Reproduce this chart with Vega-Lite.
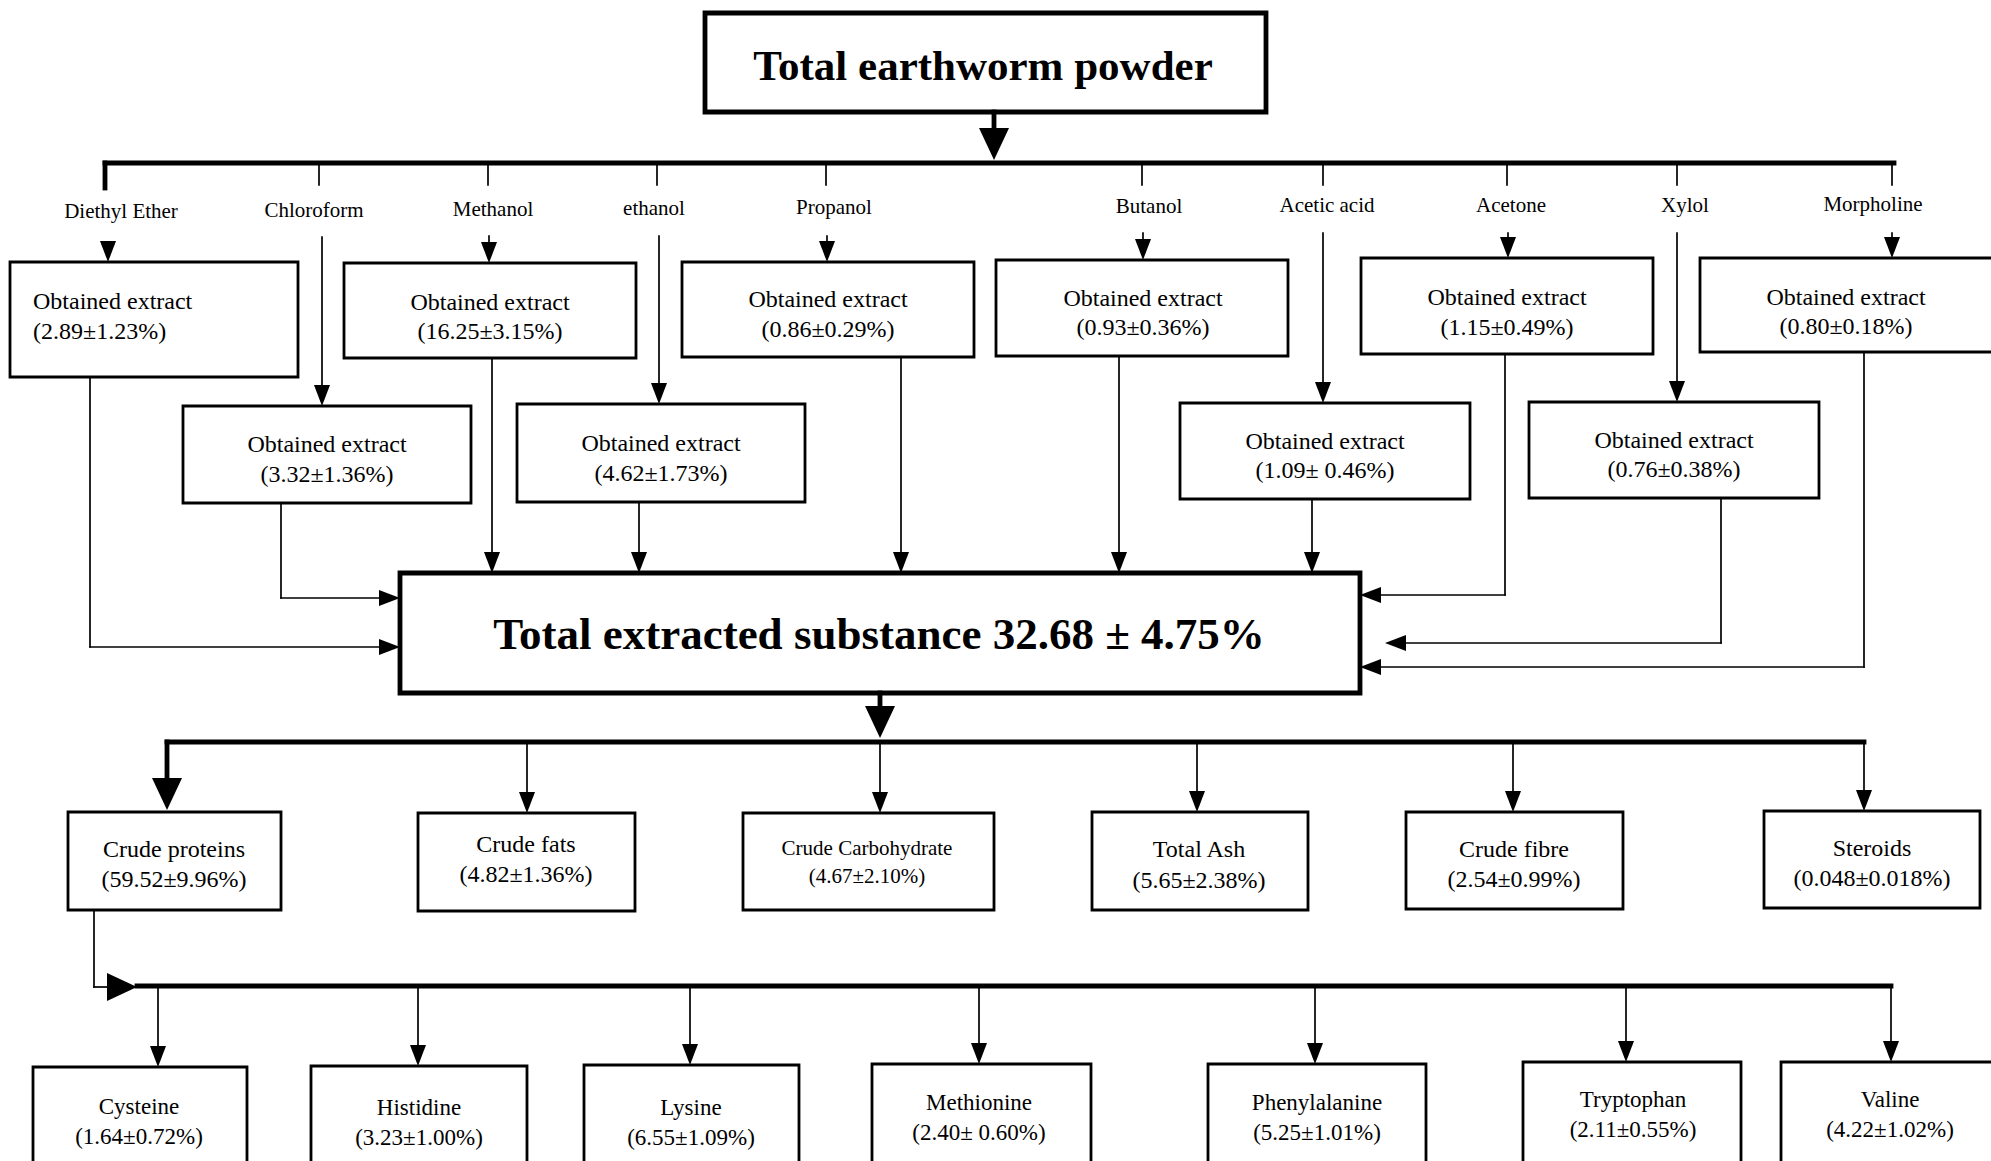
{
"$schema":"https://vega.github.io/schema/vega-lite/v6.json",
"width":1991,"height":1161,
"autosize":"none",
"padding":0,
"background":"white",
"config":{"view":{"stroke":null}},
"datasets":{
"boxes":[
{"x":705,"x2":1266,"y":13,"y2":112,"w":"thick"},
{"x":10,"x2":298,"y":262,"y2":377,"w":"med"},
{"x":344,"x2":636,"y":263,"y2":358,"w":"med"},
{"x":682,"x2":974,"y":262,"y2":357,"w":"med"},
{"x":996,"x2":1288,"y":260,"y2":356,"w":"med"},
{"x":1361,"x2":1653,"y":258,"y2":354,"w":"med"},
{"x":1700,"x2":1995,"y":258,"y2":352,"w":"med"},
{"x":183,"x2":471,"y":406,"y2":503,"w":"med"},
{"x":517,"x2":805,"y":404,"y2":502,"w":"med"},
{"x":1180,"x2":1470,"y":403,"y2":499,"w":"med"},
{"x":1529,"x2":1819,"y":402,"y2":498,"w":"med"},
{"x":400,"x2":1360,"y":573,"y2":693,"w":"thick"},
{"x":68,"x2":281,"y":812,"y2":910,"w":"med"},
{"x":418,"x2":635,"y":813,"y2":911,"w":"med"},
{"x":743,"x2":994,"y":813,"y2":910,"w":"med"},
{"x":1092,"x2":1308,"y":812,"y2":910,"w":"med"},
{"x":1406,"x2":1623,"y":812,"y2":909,"w":"med"},
{"x":1764,"x2":1980,"y":811,"y2":908,"w":"med"},
{"x":33,"x2":247,"y":1067,"y2":1200,"w":"med"},
{"x":311,"x2":527,"y":1066,"y2":1200,"w":"med"},
{"x":584,"x2":799,"y":1065,"y2":1200,"w":"med"},
{"x":872,"x2":1091,"y":1064,"y2":1200,"w":"med"},
{"x":1208,"x2":1426,"y":1064,"y2":1200,"w":"med"},
{"x":1523,"x2":1741,"y":1062,"y2":1200,"w":"med"},
{"x":1781,"x2":1995,"y":1062,"y2":1200,"w":"med"}
],
"segments":[
{"x":994,"y":112,"x2":994,"y2":135,"w":"thick"},
{"x":105,"y":163,"x2":1894,"y2":163,"w":"thick"},
{"x":105,"y":163,"x2":105,"y2":188,"w":"thick"},
{"x":880,"y":693,"x2":880,"y2":712,"w":"thick"},
{"x":167,"y":742,"x2":1864,"y2":742,"w":"thick"},
{"x":167,"y":742,"x2":167,"y2":785,"w":"thick"},
{"x":137,"y":986,"x2":1891,"y2":986,"w":"thick"},
{"x":319,"y":163,"x2":319,"y2":185,"w":"thin"},
{"x":488,"y":163,"x2":488,"y2":185,"w":"thin"},
{"x":657,"y":163,"x2":657,"y2":185,"w":"thin"},
{"x":826,"y":163,"x2":826,"y2":185,"w":"thin"},
{"x":1142,"y":163,"x2":1142,"y2":185,"w":"thin"},
{"x":1323,"y":163,"x2":1323,"y2":185,"w":"thin"},
{"x":1507,"y":163,"x2":1507,"y2":185,"w":"thin"},
{"x":1677,"y":163,"x2":1677,"y2":185,"w":"thin"},
{"x":1892,"y":163,"x2":1892,"y2":185,"w":"thin"},
{"x":489,"y":236,"x2":489,"y2":250,"w":"thin"},
{"x":827,"y":236,"x2":827,"y2":250,"w":"thin"},
{"x":1143,"y":233,"x2":1143,"y2":248,"w":"thin"},
{"x":1508,"y":233,"x2":1508,"y2":246,"w":"thin"},
{"x":1892,"y":233,"x2":1892,"y2":246,"w":"thin"},
{"x":322,"y":237,"x2":322,"y2":395,"w":"thin"},
{"x":659,"y":236,"x2":659,"y2":393,"w":"thin"},
{"x":1323,"y":233,"x2":1323,"y2":390,"w":"thin"},
{"x":1677,"y":233,"x2":1677,"y2":390,"w":"thin"},
{"x":90,"y":377,"x2":90,"y2":647,"w":"thin"},
{"x":90,"y":647,"x2":390,"y2":647,"w":"thin"},
{"x":281,"y":503,"x2":281,"y2":598,"w":"thin"},
{"x":281,"y":598,"x2":390,"y2":598,"w":"thin"},
{"x":492,"y":358,"x2":492,"y2":562,"w":"thin"},
{"x":639,"y":502,"x2":639,"y2":562,"w":"thin"},
{"x":901,"y":357,"x2":901,"y2":562,"w":"thin"},
{"x":1119,"y":356,"x2":1119,"y2":561,"w":"thin"},
{"x":1312,"y":499,"x2":1312,"y2":561,"w":"thin"},
{"x":1505,"y":354,"x2":1505,"y2":595,"w":"thin"},
{"x":1505,"y":595,"x2":1370,"y2":595,"w":"thin"},
{"x":1721,"y":498,"x2":1721,"y2":643,"w":"thin"},
{"x":1721,"y":643,"x2":1395,"y2":643,"w":"thin"},
{"x":1864,"y":352,"x2":1864,"y2":667,"w":"thin"},
{"x":1864,"y":667,"x2":1370,"y2":667,"w":"thin"},
{"x":527,"y":742,"x2":527,"y2":802,"w":"thin"},
{"x":880,"y":742,"x2":880,"y2":802,"w":"thin"},
{"x":1197,"y":742,"x2":1197,"y2":801,"w":"thin"},
{"x":1513,"y":742,"x2":1513,"y2":801,"w":"thin"},
{"x":1864,"y":742,"x2":1864,"y2":800,"w":"thin"},
{"x":94,"y":910,"x2":94,"y2":987,"w":"thin"},
{"x":94,"y":987,"x2":120,"y2":987,"w":"thin"},
{"x":158,"y":986,"x2":158,"y2":1055,"w":"thin"},
{"x":418,"y":986,"x2":418,"y2":1055,"w":"thin"},
{"x":690,"y":986,"x2":690,"y2":1053,"w":"thin"},
{"x":979,"y":986,"x2":979,"y2":1052,"w":"thin"},
{"x":1315,"y":986,"x2":1315,"y2":1052,"w":"thin"},
{"x":1626,"y":986,"x2":1626,"y2":1050,"w":"thin"},
{"x":1891,"y":986,"x2":1891,"y2":1050,"w":"thin"}
],
"arrows":[
{"x":994,"y":160,"head":"downBig"},
{"x":880,"y":738,"head":"downBig"},
{"x":167,"y":810,"head":"downBig"},
{"x":137,"y":987,"head":"rightBig"},
{"x":108,"y":262,"head":"down"},
{"x":489,"y":263,"head":"down"},
{"x":827,"y":262,"head":"down"},
{"x":1143,"y":260,"head":"down"},
{"x":1508,"y":258,"head":"down"},
{"x":1892,"y":258,"head":"down"},
{"x":322,"y":406,"head":"down"},
{"x":659,"y":404,"head":"down"},
{"x":1323,"y":403,"head":"down"},
{"x":1677,"y":402,"head":"down"},
{"x":492,"y":573,"head":"down"},
{"x":639,"y":573,"head":"down"},
{"x":901,"y":573,"head":"down"},
{"x":1119,"y":573,"head":"down"},
{"x":1312,"y":573,"head":"down"},
{"x":527,"y":813,"head":"down"},
{"x":880,"y":813,"head":"down"},
{"x":1197,"y":812,"head":"down"},
{"x":1513,"y":812,"head":"down"},
{"x":1864,"y":811,"head":"down"},
{"x":158,"y":1067,"head":"down"},
{"x":418,"y":1066,"head":"down"},
{"x":690,"y":1065,"head":"down"},
{"x":979,"y":1064,"head":"down"},
{"x":1315,"y":1064,"head":"down"},
{"x":1626,"y":1062,"head":"down"},
{"x":1891,"y":1062,"head":"down"},
{"x":400,"y":647,"head":"right"},
{"x":400,"y":598,"head":"right"},
{"x":1360,"y":595,"head":"left"},
{"x":1385,"y":643,"head":"left"},
{"x":1360,"y":667,"head":"left"}
],
"texts":[
{"x":983,"y":67,"text":"Total earthworm powder","style":"head"},
{"x":879,"y":635,"text":"Total extracted substance 32.68 ± 4.75%","style":"main"},
{"x":121,"y":212,"text":"Diethyl Ether","style":"label"},
{"x":314,"y":211,"text":"Chloroform","style":"label"},
{"x":493,"y":210,"text":"Methanol","style":"label"},
{"x":654,"y":209,"text":"ethanol","style":"label"},
{"x":834,"y":208,"text":"Propanol","style":"label"},
{"x":1149,"y":207,"text":"Butanol","style":"label"},
{"x":1327,"y":206,"text":"Acetic acid","style":"label"},
{"x":1511,"y":206,"text":"Acetone","style":"label"},
{"x":1685,"y":206,"text":"Xylol","style":"label"},
{"x":1873,"y":205,"text":"Morpholine","style":"label"},
{"x":33,"y":302,"text":"Obtained extract","style":"left"},
{"x":33,"y":332,"text":"(2.89±1.23%)","style":"left"},
{"x":490,"y":303,"text":"Obtained extract","style":"box"},
{"x":490,"y":332,"text":"(16.25±3.15%)","style":"box"},
{"x":828,"y":300,"text":"Obtained extract","style":"box"},
{"x":828,"y":330,"text":"(0.86±0.29%)","style":"box"},
{"x":1143,"y":299,"text":"Obtained extract","style":"box"},
{"x":1143,"y":328,"text":"(0.93±0.36%)","style":"box"},
{"x":1507,"y":298,"text":"Obtained extract","style":"box"},
{"x":1507,"y":328,"text":"(1.15±0.49%)","style":"box"},
{"x":1846,"y":298,"text":"Obtained extract","style":"box"},
{"x":1846,"y":327,"text":"(0.80±0.18%)","style":"box"},
{"x":327,"y":445,"text":"Obtained extract","style":"box"},
{"x":327,"y":475,"text":"(3.32±1.36%)","style":"box"},
{"x":661,"y":444,"text":"Obtained extract","style":"box"},
{"x":661,"y":474,"text":"(4.62±1.73%)","style":"box"},
{"x":1325,"y":442,"text":"Obtained extract","style":"box"},
{"x":1325,"y":471,"text":"(1.09± 0.46%)","style":"box"},
{"x":1674,"y":441,"text":"Obtained extract","style":"box"},
{"x":1674,"y":470,"text":"(0.76±0.38%)","style":"box"},
{"x":174,"y":850,"text":"Crude proteins","style":"box"},
{"x":174,"y":880,"text":"(59.52±9.96%)","style":"box"},
{"x":526,"y":845,"text":"Crude fats","style":"box"},
{"x":526,"y":875,"text":"(4.82±1.36%)","style":"box"},
{"x":867,"y":849,"text":"Crude Carbohydrate","style":"small"},
{"x":867,"y":877,"text":"(4.67±2.10%)","style":"small"},
{"x":1199,"y":850,"text":"Total Ash","style":"box"},
{"x":1199,"y":881,"text":"(5.65±2.38%)","style":"box"},
{"x":1514,"y":850,"text":"Crude fibre","style":"box"},
{"x":1514,"y":880,"text":"(2.54±0.99%)","style":"box"},
{"x":1872,"y":849,"text":"Steroids","style":"box"},
{"x":1872,"y":879,"text":"(0.048±0.018%)","style":"box"},
{"x":139,"y":1107,"text":"Cysteine","style":"amino"},
{"x":139,"y":1137,"text":"(1.64±0.72%)","style":"amino"},
{"x":419,"y":1108,"text":"Histidine","style":"amino"},
{"x":419,"y":1138,"text":"(3.23±1.00%)","style":"amino"},
{"x":691,"y":1108,"text":"Lysine","style":"amino"},
{"x":691,"y":1138,"text":"(6.55±1.09%)","style":"amino"},
{"x":979,"y":1103,"text":"Methionine","style":"amino"},
{"x":979,"y":1133,"text":"(2.40± 0.60%)","style":"amino"},
{"x":1317,"y":1103,"text":"Phenylalanine","style":"amino"},
{"x":1317,"y":1133,"text":"(5.25±1.01%)","style":"amino"},
{"x":1633,"y":1100,"text":"Tryptophan","style":"amino"},
{"x":1633,"y":1130,"text":"(2.11±0.55%)","style":"amino"},
{"x":1890,"y":1100,"text":"Valine","style":"amino"},
{"x":1890,"y":1130,"text":"(4.22±1.02%)","style":"amino"}
]
},
"encoding":{
"x":{"field":"x","type":"quantitative","scale":{"domain":[0,1991],"nice":false,"zero":false},"axis":null},
"y":{"field":"y","type":"quantitative","scale":{"domain":[0,1161],"nice":false,"zero":false,"reverse":true},"axis":null}
},
"layer":[
{"data":{"name":"boxes"},"mark":{"type":"rect","fill":"white","stroke":"black","clip":true},
"encoding":{"x2":{"field":"x2"},"y2":{"field":"y2"},
"strokeWidth":{"field":"w","type":"ordinal","scale":{"type":"ordinal","domain":["thin","med","thick"],"range":[1.7,2.8,4.8]},"legend":null}}},
{"data":{"name":"segments"},"mark":{"type":"rule","color":"black","strokeCap":"square","clip":true},
"encoding":{"x2":{"field":"x2"},"y2":{"field":"y2"},
"strokeWidth":{"field":"w","type":"ordinal","scale":{"type":"ordinal","domain":["thin","med","thick"],"range":[1.7,2.8,4.8]},"legend":null}}},
{"data":{"name":"arrows"},"mark":{"type":"point","filled":true,"color":"black","opacity":1,"strokeWidth":0,"size":3600},
"encoding":{"shape":{"field":"head","type":"nominal","scale":{"domain":["down","downBig","left","right","rightBig"],"range":["M-0.267,-0.7L0.267,-0.7L0,0Z","M-0.5,-1.07L0.5,-1.07L0,0Z","M0.7,-0.267L0.7,0.267L0,0Z","M-0.7,-0.267L-0.7,0.267L0,0Z","M-1,-0.47L-1,0.47L0,0Z"]},"legend":null}}},
{"data":{"name":"texts"},"transform":[{"filter":"datum.style==='head'"}],
"mark":{"type":"text","font":"Liberation Serif","fontWeight":"bold","fontSize":43,"baseline":"middle","align":"center","color":"black"},
"encoding":{"text":{"field":"text"}}},
{"data":{"name":"texts"},"transform":[{"filter":"datum.style==='main'"}],
"mark":{"type":"text","font":"Liberation Serif","fontWeight":"bold","fontSize":45,"baseline":"middle","align":"center","color":"black"},
"encoding":{"text":{"field":"text"}}},
{"data":{"name":"texts"},"transform":[{"filter":"datum.style==='label'"}],
"mark":{"type":"text","font":"Liberation Serif","fontSize":21,"baseline":"middle","align":"center","color":"black"},
"encoding":{"text":{"field":"text"}}},
{"data":{"name":"texts"},"transform":[{"filter":"datum.style==='box'"}],
"mark":{"type":"text","font":"Liberation Serif","fontSize":24,"baseline":"middle","align":"center","color":"black"},
"encoding":{"text":{"field":"text"}}},
{"data":{"name":"texts"},"transform":[{"filter":"datum.style==='small'"}],
"mark":{"type":"text","font":"Liberation Serif","fontSize":21,"baseline":"middle","align":"center","color":"black"},
"encoding":{"text":{"field":"text"}}},
{"data":{"name":"texts"},"transform":[{"filter":"datum.style==='amino'"}],
"mark":{"type":"text","font":"Liberation Serif","fontSize":23,"baseline":"middle","align":"center","color":"black"},
"encoding":{"text":{"field":"text"}}},
{"data":{"name":"texts"},"transform":[{"filter":"datum.style==='left'"}],
"mark":{"type":"text","font":"Liberation Serif","fontSize":24,"baseline":"middle","align":"left","color":"black"},
"encoding":{"text":{"field":"text"}}}
]
}
